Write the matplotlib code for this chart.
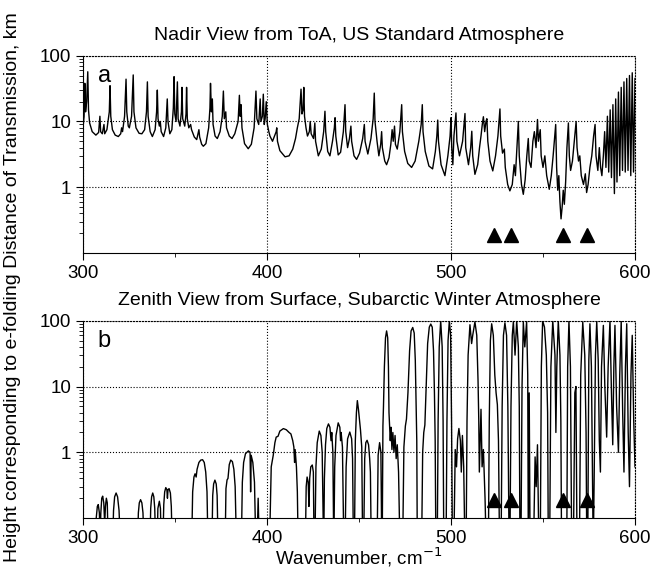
import numpy as np
import matplotlib
matplotlib.use("Agg")
import matplotlib.pyplot as plt

plt.rcParams['font.family'] = ['Liberation Sans', 'DejaVu Sans']
plt.rcParams['font.size'] = 13

# Panel a: nadir view, US standard atmosphere (wavenumber cm-1, height km)
panel_a_points = [
    (300.0, 8.0), (300.6, 12), (301.0, 38), (301.4, 14), (302.0, 20), (302.6, 57), (303.0, 15),
    (303.6, 9.5), (305.0, 7.0), (307.0, 6.2), (308.5, 6.8), (309.2, 12), (309.6, 7), (310.5, 6.5),
    (311.4, 9), (311.8, 6.5), (313.0, 7.5), (314.3, 14), (314.7, 35), (315.1, 12), (316.0, 7.5),
    (317.5, 6.2), (319.2, 5.9), (320.5, 6.5), (321.0, 8.0), (321.5, 7.0), (322.6, 12), (323.4, 44),
    (323.8, 14), (324.6, 8.5), (325.2, 8.0), (326.4, 12), (327.3, 51), (327.7, 14), (328.8, 8.0),
    (330.5, 6.6), (332.0, 6.5), (333.5, 7.5), (334.5, 14), (335.0, 40), (335.4, 12), (336.5, 7),
    (337.7, 5.9), (339.2, 7.5), (340.0, 14), (340.4, 30), (340.8, 11), (341.5, 8.5), (342.0, 10),
    (342.5, 7), (343.8, 5.9), (345.0, 8.0), (345.8, 22), (346.2, 10), (347.2, 6.5), (348.3, 7.5),
    (349.1, 16), (349.5, 48), (349.9, 13), (350.6, 10), (351.3, 40), (351.7, 11), (352.7, 8.5),
    (353.5, 14), (353.8, 33), (354.2, 11), (355.3, 8.5), (356.0, 13), (356.3, 33), (356.7, 11),
    (357.5, 8.0), (358.5, 9.0), (359.0, 7.5), (360.5, 5.8), (361.8, 5.3), (363.0, 7.5), (363.4, 5.8),
    (364.5, 4.5), (365.4, 4.2), (366.8, 4.6), (368.3, 8), (369.0, 16), (369.3, 38), (369.8, 14),
    (370.3, 22), (370.7, 9), (371.8, 6.0), (373.0, 5.5), (374.5, 7), (375.7, 12), (376.3, 29),
    (376.8, 11), (377.6, 14), (378.0, 8), (379.5, 6.0), (381.0, 5.5), (382.5, 6.5), (384.3, 10),
    (385.0, 25), (385.4, 12), (385.9, 18), (386.4, 8), (387.8, 4.6), (389.8, 3.85), (391.5, 4.5),
    (393.0, 8), (394.0, 29), (394.5, 11), (395.5, 9), (396.3, 22), (396.7, 10), (397.5, 12),
    (398.0, 26), (398.5, 9), (399.0, 11), (399.6, 20), (400.2, 9), (401.0, 7), (401.6, 6.0),
    (403.0, 5.0), (405.0, 7.0), (405.3, 8.0), (405.7, 5.0), (407.0, 3.6), (409.8, 2.9), (412.0, 3.0),
    (414.0, 3.8), (415.5, 5.5), (416.5, 8), (417.5, 11), (418.5, 31), (419.0, 13), (419.6, 15),
    (420.0, 33), (420.4, 12), (421.2, 8), (422.0, 6.0), (423.0, 7.0), (423.5, 10), (424.0, 6.5),
    (425.3, 5.5), (426.0, 9.5), (426.4, 5), (427.9, 3.0), (429.5, 3.8), (430.8, 7), (431.5, 14.3),
    (431.9, 7), (433.0, 3.5), (434.2, 3.0), (435.6, 5), (436.6, 8), (437.0, 11.4), (437.4, 6),
    (438.7, 3.1), (440.0, 3.4), (441.5, 7), (442.4, 18), (442.8, 7), (443.8, 4.0), (444.8, 5.5),
    (445.6, 8.5), (446.0, 5), (447.3, 3.0), (448.7, 2.65), (450.3, 3.3), (452.0, 5.5), (452.9, 9),
    (453.3, 5), (454.8, 3.2), (456.5, 5.5), (457.7, 11), (458.3, 27), (458.7, 10), (459.8, 5),
    (460.8, 3.0), (461.8, 4.5), (462.3, 7), (462.7, 4.0), (464.0, 2.5), (465.0, 2.2), (466.3, 2.8),
    (467.3, 4.5), (468.0, 7.5), (468.6, 5), (469.3, 8.5), (469.8, 4.5), (470.8, 3.8), (472.2, 7),
    (473.2, 18), (473.6, 7), (474.8, 3.5), (476.5, 2.3), (478.6, 2.0), (480.5, 2.5), (482.5, 5),
    (483.8, 9), (484.4, 18), (484.8, 7), (486.0, 3.5), (488.0, 2.1), (490.0, 1.9), (491.5, 3.5),
    (492.3, 6), (492.8, 10.5), (493.2, 5), (494.6, 2.2), (496.7, 1.5), (498.3, 3), (499.5, 6),
    (500.0, 11.4), (500.4, 4), (501.0, 2.2), (501.6, 6), (502.7, 13.5), (503.2, 5), (504.6, 3.0),
    (506.3, 5), (507.6, 13.2), (508.0, 4), (509.5, 2.2), (510.7, 4), (511.3, 7.1), (511.8, 3),
    (513.0, 1.57), (514.5, 2.2), (515.5, 4), (516.3, 6), (517.0, 9), (517.6, 11.8), (518.3, 7),
    (519.0, 10), (519.5, 11), (520.0, 5), (521.2, 2.5), (522.7, 1.77), (524.2, 3.0), (525.5, 6),
    (526.6, 15.5), (527.0, 6), (528.0, 3.3), (529.0, 3.8), (529.5, 2), (530.8, 1.1), (532.0, 0.88),
    (533.3, 1.1), (534.3, 2.2), (535.0, 1.5), (535.8, 4), (536.6, 10), (537.1, 3), (538.3, 1.1),
    (539.3, 0.78), (540.3, 1.3), (541.2, 3), (542.0, 5.5), (542.5, 2.5), (543.5, 2.0), (544.5, 5),
    (545.3, 7), (546.2, 4), (547.0, 10.7), (547.5, 5), (548.5, 7.5), (549.0, 3), (550.0, 2),
    (551.0, 3), (552.0, 1.5), (553.4, 0.93), (554.5, 1.5), (555.5, 3), (556.4, 6), (556.9, 9),
    (557.4, 2), (558.0, 0.9), (558.6, 1.5), (559.2, 0.6), (559.8, 0.33), (560.4, 0.5), (561.0, 0.9),
    (561.6, 0.55), (562.3, 1.2), (563.0, 4), (563.8, 9.5), (564.3, 3), (565.0, 1.8), (566.0, 2.5),
    (567.0, 5), (568.0, 10), (568.5, 4), (569.3, 2.5), (570.0, 3), (570.8, 1.5), (572.0, 1.1),
    (573.0, 1.6), (573.7, 0.83), (574.5, 1.1), (575.5, 2.0), (576.5, 3), (577.5, 6), (578.3, 9),
    (578.8, 3), (579.8, 1.8), (580.6, 4), (581.3, 2.0), (582.0, 1.5), (582.8, 3), (583.5, 7),
    (584.2, 2), (585.0, 12), (585.7, 1.7), (586.5, 15), (587.2, 1.4), (588.0, 18), (588.8, 0.8),
    (589.5, 22), (590.2, 1.2), (591.0, 28), (591.7, 1.5), (592.5, 33), (593.2, 1.8), (594.0, 40),
    (594.7, 1.7), (595.5, 45), (596.2, 1.8), (597.0, 50), (597.7, 1.5), (598.5, 55), (599.2, 1.7),
    (600.0, 45),
]

# Panel b: zenith view from surface, subarctic winter (values < 0.1 fall below the axis)
panel_b_points = [
    (300.0, 0.02), (306.5, 0.02), (307.2, 0.10), (307.8, 0.15), (308.3, 0.16), (308.9, 0.12),
    (309.3, 0.05), (309.7, 0.12), (310.2, 0.2), (310.7, 0.215), (311.3, 0.17), (311.8, 0.08),
    (312.2, 0.15), (312.7, 0.2), (313.2, 0.17), (313.8, 0.03),
    (316.0, 0.03), (316.6, 0.13), (317.2, 0.21), (318.0, 0.24), (318.8, 0.21), (319.6, 0.13), (320.5, 0.03),
    (329.5, 0.03), (330.1, 0.12), (330.6, 0.17), (331.3, 0.19), (332.0, 0.17), (332.6, 0.12), (333.3, 0.03),
    (336.3, 0.03), (336.8, 0.14), (337.3, 0.21), (337.9, 0.24), (338.5, 0.21), (339.0, 0.14), (339.6, 0.03),
    (340.2, 0.03), (340.7, 0.14), (341.5, 0.18), (342.1, 0.14), (342.6, 0.03),
    (343.3, 0.03), (343.9, 0.16), (344.4, 0.25), (345.0, 0.29), (345.6, 0.27), (345.9, 0.2),
    (346.2, 0.27), (346.8, 0.28), (347.5, 0.24), (348.0, 0.15), (348.6, 0.03),
    (359.0, 0.03), (359.6, 0.25), (360.3, 0.42), (360.9, 0.47), (361.5, 0.42), (362.0, 0.55),
    (363.0, 0.7), (364.0, 0.76), (365.0, 0.77), (365.9, 0.7), (366.7, 0.5), (367.4, 0.25), (368.0, 0.03),
    (370.0, 0.03), (370.5, 0.22), (371.0, 0.33), (371.7, 0.377), (372.4, 0.33), (372.9, 0.22), (373.5, 0.03),
    (377.2, 0.03), (377.7, 0.28), (378.3, 0.38), (378.8, 0.4), (379.5, 0.65), (380.3, 0.76),
    (381.2, 0.72), (382.0, 0.55), (382.7, 0.3), (383.5, 0.03),
    (386.0, 0.03), (386.6, 0.35), (387.3, 0.7), (388.3, 0.95), (389.9, 1.05), (390.8, 1.0),
    (391.1, 0.25), (391.4, 0.9), (392.3, 0.7), (393.2, 0.35), (394.0, 0.03),
    (394.5, 0.03), (395.2, 0.2), (395.9, 0.03),
    (401.3, 0.03), (402.3, 0.6), (403.4, 0.9), (404.3, 1.4), (405.0, 1.7), (406.0, 1.75),
    (407.0, 2.1), (408.9, 2.29), (410.5, 2.2), (412.0, 2.0), (413.0, 1.9), (414.0, 1.5),
    (414.6, 1.2), (415.0, 0.7), (415.3, 1.1), (416.0, 0.6), (416.5, 0.25), (417.0, 0.03),
    (420.8, 0.03), (421.3, 0.3), (421.8, 0.42), (422.4, 0.35), (422.8, 0.15), (423.2, 0.4),
    (423.8, 0.6), (424.6, 0.64), (425.2, 0.5), (425.6, 0.03),
    (426.0, 0.03), (426.6, 0.6), (427.3, 1.4), (428.4, 2.1), (429.3, 1.8), (430.0, 1.0), (430.8, 0.03),
    (431.2, 0.4), (431.8, 1.3), (432.5, 2.3), (433.4, 2.7), (434.2, 2.4), (434.8, 1.5),
    (435.2, 2.0), (435.8, 1.0), (436.3, 0.03),
    (436.8, 0.6), (437.5, 1.8), (438.7, 2.8), (439.6, 2.4), (440.0, 1.5), (440.3, 2.0),
    (441.0, 1.2), (441.8, 0.03),
    (442.4, 0.03), (443.0, 0.6), (443.8, 1.6), (445.0, 2.03), (446.0, 1.6), (446.5, 0.8), (447.0, 0.03),
    (447.5, 0.03), (448.0, 1.5), (448.6, 4.0), (449.1, 6.1), (449.7, 4.5), (450.3, 3.0),
    (450.8, 2.2), (451.5, 1.2), (452.0, 0.03),
    (452.5, 0.03), (453.1, 0.8), (453.7, 1.4), (454.4, 1.52), (455.2, 1.3), (455.8, 0.8),
    (456.2, 0.5), (456.7, 0.03),
    (459.8, 0.03), (460.4, 0.9), (461.2, 1.4), (461.9, 1.0), (462.4, 0.03),
    (462.6, 0.03), (463.0, 2.5), (463.3, 4.9), (463.8, 20), (464.4, 55), (465.0, 70), (465.6, 55),
    (466.0, 20), (466.3, 4.0), (466.6, 2.6), (467.0, 1.5), (467.4, 2.4), (467.9, 1.1), (468.4, 2.0),
    (469.0, 1.0), (469.6, 1.8), (470.2, 0.8), (470.8, 1.3), (471.5, 0.5), (472.3, 0.03),
    (473.7, 0.03), (474.4, 1.2), (475.2, 2.5), (475.8, 3.2), (476.6, 8), (477.5, 35), (478.3, 70),
    (479.2, 79), (480.0, 65), (480.6, 25), (481.0, 6), (481.4, 1.5), (481.7, 0.03),
    (484.0, 0.03), (484.6, 1.0), (485.2, 2.0), (485.8, 2.6), (486.5, 10), (487.3, 45), (488.2, 80),
    (489.0, 89), (489.8, 80), (490.5, 35), (491.0, 8), (491.4, 1.5), (491.8, 0.03),
    (492.5, 0.03), (493.0, 3), (493.6, 40), (494.4, 100), (495.2, 40), (495.7, 3), (496.1, 0.03),
    (497.3, 0.03), (497.8, 3), (498.4, 50), (499.1, 100), (499.8, 60), (500.3, 3), (500.8, 0.03),
    (501.5, 0.03), (502.3, 1.1), (503.0, 0.6), (503.6, 1.6), (504.3, 2.3), (505.1, 1.5),
    (505.6, 0.5), (506.2, 1.8), (506.9, 0.6), (507.6, 0.03),
    (508.2, 0.03), (508.7, 3), (509.3, 30), (510.3, 87), (511.2, 45), (511.8, 60), (513.0, 96),
    (514.0, 60), (514.7, 12), (515.1, 3), (515.4, 0.5), (516.3, 4.5), (516.9, 0.6), (517.6, 1.1),
    (518.5, 0.2), (519.2, 0.03),
    (520.3, 0.03), (520.8, 3), (521.4, 50), (522.1, 90), (523.0, 60), (523.8, 15), (524.5, 8),
    (525.2, 5.3), (525.8, 1.5), (526.4, 0.03),
    (527.2, 0.03), (527.8, 5), (528.5, 60), (529.3, 93), (530.2, 60), (530.9, 5), (531.6, 0.03),
    (532.0, 0.03), (532.6, 5), (533.3, 60), (533.9, 97), (534.8, 30), (535.7, 100), (536.6, 40),
    (537.1, 5), (537.5, 0.03),
    (538.0, 0.03), (538.6, 10), (539.3, 95), (540.1, 40), (541.1, 97), (541.7, 15), (542.0, 0.05),
    (542.5, 8), (543.0, 0.03),
    (544.8, 0.03), (545.7, 0.85), (546.3, 0.3), (547.0, 1.3), (547.8, 0.03),
    (548.5, 0.03), (549.1, 20), (549.8, 100), (550.8, 80), (551.8, 30), (552.5, 4), (552.9, 0.03),
    (553.6, 0.03), (554.3, 20), (555.3, 100), (556.5, 30), (557.0, 2), (557.5, 20), (558.3, 100),
    (559.2, 30), (559.7, 3), (560.1, 0.03),
    (562.9, 0.03), (563.4, 20), (564.1, 100), (564.9, 20), (565.6, 0.03),
    (566.5, 0.03), (567.3, 8), (567.9, 10), (568.5, 0.03),
    (569.8, 0.03), (570.5, 15), (571.6, 95), (572.7, 30), (573.4, 2), (573.8, 0.03),
    (574.3, 0.03), (574.9, 25), (575.5, 90), (576.3, 20), (577.3, 0.03),
    (577.8, 0.4), (578.5, 30), (579.2, 97), (580.0, 25), (580.6, 1.5), (581.2, 0.5), (581.8, 20),
    (582.8, 85), (583.6, 10), (584.6, 1.7), (585.4, 20), (586.4, 100), (587.2, 8), (587.9, 1.3),
    (588.5, 20), (589.1, 85), (590.0, 5), (591.0, 1.0), (591.7, 15), (592.5, 100), (593.3, 4),
    (594.0, 0.5), (594.8, 20), (595.5, 90), (596.3, 2), (597.0, 0.3), (597.8, 15), (598.5, 60),
    (599.3, 3), (600.0, 0.6),
]

marker_wn = [523.4, 532.4, 560.7, 573.7]
marker_h = [0.19, 0.19, 0.19, 0.19]

titles = ["Nadir View from ToA, US Standard Atmosphere",
          "Zenith View from Surface, Subarctic Winter Atmosphere"]
panel_tags = ["a", "b"]

fig = plt.figure(figsize=(6.56, 5.69), dpi=100)
ax_a = fig.add_axes([0.1265, 0.5554, 0.8415, 0.3467])
ax_b = fig.add_axes([0.1265, 0.0896, 0.8415, 0.3467])

for ax, pts, title, tag in zip([ax_a, ax_b], [panel_a_points, panel_b_points], titles, panel_tags):
    pts = np.array(pts)
    ax.plot(pts[:, 0], pts[:, 1], color="black", lw=1.0)
    ax.plot(marker_wn, marker_h, linestyle="none", marker="^", color="black", markersize=10)
    ax.set_yscale("log")
    ax.set_xlim(300, 600)
    ax.set_ylim(0.1, 100)
    ax.set_xticks([300, 400, 500, 600])
    ax.set_xticks([350, 450, 550], minor=True)
    ax.set_yticks([1, 10, 100])
    ax.set_yticklabels(["1", "10", "100"])
    ax.tick_params(which="both", direction="out", top=False, right=False, labelsize=13.5)
    ax.tick_params(which="major", length=5)
    ax.tick_params(which="minor", length=3)
    ax.grid(True, which="major", linestyle=":", color="black", lw=0.8)
    ax.spines["top"].set_linestyle(":")
    ax.spines["right"].set_linestyle(":")
    ax.set_title(title, fontsize=14, pad=11)
    ax.text(0.027, 0.865, tag, transform=ax.transAxes, fontsize=17, ha="left", va="baseline")

ax_b.set_xlabel("Wavenumber, cm$^{-1}$", fontsize=13.5, labelpad=-1)
fig.text(0.019, 0.496, "Height corresponding to e-folding Distance of Transmission, km",
         rotation=90, ha="center", va="center", fontsize=14)

fig.savefig("out.png", dpi=100)
